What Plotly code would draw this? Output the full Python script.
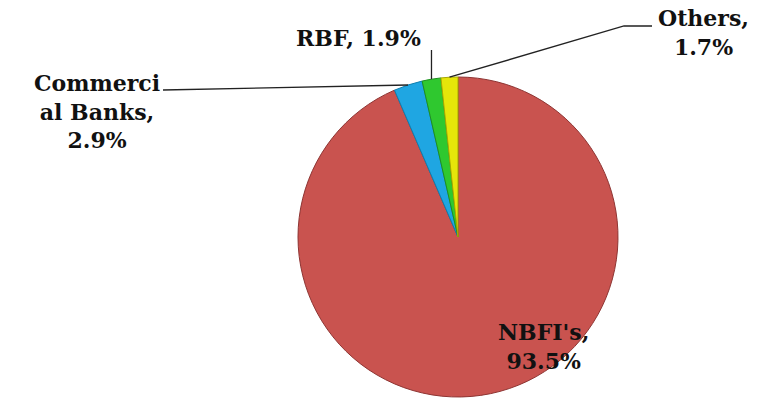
import math
import plotly.graph_objects as go

# ---- data ----
categories = ["NBFI's", "Commercial Banks", "RBF", "Others"]
shares = [93.5, 2.9, 1.9, 1.7]
label_texts = ["NBFI's,<br>93.5%", "Commerci<br>al Banks,<br>2.9%", "RBF, 1.9%", "Others,<br>1.7%"]
colors = ["#C9534F", "#1FA6E2", "#2FC82F", "#E6E60A"]
edge_colors = ["#8E3533", "#0E7FB0", "#1E901E", "#A8A800"]

W, H = 762, 404
CX, CY, R = 458, 237, 160  # pie centre / radius in pixels


def px(x):
    return x / W


def py(y):
    return 1 - y / H


fig = go.Figure(
    go.Pie(
        labels=categories,
        values=shares,
        sort=False,
        direction="clockwise",
        rotation=0,
        textinfo="none",
        hoverinfo="label+percent",
        marker=dict(colors=colors, line=dict(color=edge_colors, width=1)),
        domain=dict(x=[px(CX - R), px(CX + R)], y=[py(CY + R), py(CY - R)]),
        showlegend=False,
    )
)

# slice edge points (computed from the data) for leader lines
total = sum(shares)
edge_pts = []
cum = 0.0
for v in shares:
    theta = math.radians((cum + v / 2) / total * 360)
    edge_pts.append((CX + R * math.sin(theta), CY - R * math.cos(theta)))
    cum += v

font = dict(family="DejaVu Serif", size=22, color="#111111")

label_pos = {0: (543, 346), 1: (97, 111), 2: (358, 38), 3: (703, 33)}
for i, (x, y) in label_pos.items():
    fig.add_annotation(
        x=px(x), y=py(y), xref="paper", yref="paper",
        text="<b>" + label_texts[i] + "</b>", showarrow=False,
        font=font, align="center", xanchor="center", yanchor="middle",
    )

line_style = dict(color="#222222", width=1.3)
# Commercial Banks leader
ex, ey = edge_pts[1]
fig.add_shape(type="path", xref="paper", yref="paper",
              path=f"M {px(163)},{py(90)} L {px(ex)},{py(ey)}", line=line_style)
# RBF leader
ex, ey = edge_pts[2]
fig.add_shape(type="path", xref="paper", yref="paper",
              path=f"M {px(ex)},{py(50)} L {px(ex)},{py(ey)}", line=line_style)
# Others leader
ex, ey = edge_pts[3]
fig.add_shape(type="path", xref="paper", yref="paper",
              path=f"M {px(652)},{py(26)} L {px(624)},{py(26)} L {px(ex)},{py(ey)}",
              line=line_style)

fig.update_layout(
    width=W, height=H,
    margin=dict(l=0, r=0, t=0, b=0),
    paper_bgcolor="white", plot_bgcolor="white",
)

fig.write_html("out.html", config={"displayModeBar": False},
               post_script="document.body.style.margin='0';")
